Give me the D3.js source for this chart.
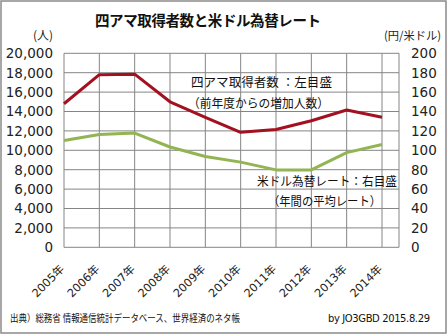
<!DOCTYPE html>
<html><head><meta charset="utf-8">
<script src="https://cdn.jsdelivr.net/npm/d3@7"></script>
<style>body{margin:0;background:#fff}svg{display:block}</style>
</head><body>
<svg id="c" width="448" height="336"></svg>
<script>
const categories = ["2005年","2006年","2007年","2008年","2009年","2010年","2011年","2012年","2013年","2014年"];
const licensees = [14800, 17800, 17850, 15000, 13400, 11850, 12150, 13050, 14150, 13400];
const usdJpy = [110.2, 116.3, 117.8, 103.4, 93.6, 87.8, 79.8, 79.8, 97.6, 105.9];
const leftTicks = [0,2000,4000,6000,8000,10000,12000,14000,16000,18000,20000];
const rightTicks = [0,20,40,60,80,100,120,140,160,180,200];
const title = "四アマ取得者数と米ドル為替レート";

const svg = d3.select("#c");
const L = 64, R = 399, T = 53.3, B = 247.3;
const lastX = 382;
const font = "'DejaVu Sans','Noto Sans CJK JP',sans-serif";
const jfont = "'Noto Sans CJK JP',sans-serif";

svg.append("rect").attr("x",1).attr("y",1).attr("width",445).attr("height",332)
  .attr("fill","#fff").attr("stroke","#8a8a8a").attr("stroke-width",1.5);

const x = d3.scalePoint().domain(categories).range([L, lastX]);
const yL = d3.scaleLinear().domain([0,20000]).range([B,T]);
const yR = d3.scaleLinear().domain([0,200]).range([B,T]);

// gridlines
const g = svg.append("g");
g.selectAll(".h").data(leftTicks).join("line")
  .attr("x1",L).attr("x2",R).attr("y1",d=>yL(d)).attr("y2",d=>yL(d))
  .attr("stroke","#858585").attr("stroke-width",1);
g.selectAll(".v").data(categories).join("line")
  .attr("x1",d=>x(d)).attr("x2",d=>x(d)).attr("y1",T).attr("y2",B)
  .attr("stroke","#858585").attr("stroke-width",1);
g.append("line").attr("x1",R).attr("x2",R).attr("y1",T).attr("y2",B)
  .attr("stroke","#858585").attr("stroke-width",1);

// left axis labels
svg.append("g").selectAll("text").data(leftTicks).join("text")
  .attr("x",53).attr("y",d=>yL(d)).attr("dy","0.36em").attr("text-anchor","end")
  .attr("font-family",font).attr("font-size",13.5).attr("fill","#222")
  .text(d=>d3.format(",")(d));
// right axis labels
svg.append("g").selectAll("text").data(rightTicks).join("text")
  .attr("x",411).attr("y",d=>yR(d)).attr("dy","0.36em").attr("text-anchor","start")
  .attr("font-family",font).attr("font-size",13.5).attr("fill","#222")
  .text(d=>d);

// unit labels
svg.append("text").attr("x",33).attr("y",36).attr("dy","0.36em")
  .attr("font-family",jfont).attr("font-size",12).attr("fill","#222")
  .attr("textLength",20).attr("lengthAdjust","spacingAndGlyphs").text("(人)");
svg.append("text").attr("x",384).attr("y",36).attr("dy","0.36em")
  .attr("font-family",jfont).attr("font-size",11.5).attr("fill","#222")
  .attr("textLength",57).attr("lengthAdjust","spacingAndGlyphs").text("(円/米ドル)");

// x axis labels
svg.append("g").selectAll("text").data(categories).join("text")
  .attr("transform",d=>`translate(${x(d)+1},${B+22.5}) rotate(-45)`)
  .attr("text-anchor","end")
  .attr("font-family",font).attr("font-size",11.3).attr("fill","#222")
  .text(d=>d);

// lines
const lineL = d3.line().x((d,i)=>x(categories[i])).y(d=>yL(d));
const lineR = d3.line().x((d,i)=>x(categories[i])).y(d=>yR(d));
svg.append("path").datum(usdJpy).attr("d",lineR).attr("fill","none")
  .attr("stroke","#93B453").attr("stroke-width",3).attr("stroke-linejoin","round");
svg.append("path").datum(licensees).attr("d",lineL).attr("fill","none")
  .attr("stroke","#A3101F").attr("stroke-width",3).attr("stroke-linejoin","round");

// title
svg.append("text").attr("x",208).attr("y",21).attr("dy","0.36em").attr("text-anchor","middle")
  .attr("font-family",jfont).attr("font-weight","bold").attr("font-size",14.5).attr("fill","#111")
  .attr("textLength",226).text(title);

// annotations
const ann = [
  {t:"四アマ取得者数 ：左目盛", x:191, y:82, w:141},
  {t:"（前年度からの増加人数）", x:188, y:103, w:141},
  {t:"米ドル為替レート：右目盛", x:257, y:181, w:140},
  {t:"（年間の平均レート）", x:268, y:201.5, w:113}
];
svg.append("g").selectAll("text").data(ann).join("text")
  .attr("x",d=>d.x).attr("y",d=>d.y).attr("dy","0.36em")
  .attr("font-family",jfont).attr("font-size",12.5).attr("fill","#111")
  .attr("textLength",d=>d.w).attr("lengthAdjust","spacingAndGlyphs")
  .text(d=>d.t);

// footer
svg.append("text").attr("x",10).attr("y",318).attr("dy","0.36em")
  .attr("font-family",jfont).attr("font-size",10).attr("fill","#111")
  .attr("textLength",230).attr("lengthAdjust","spacingAndGlyphs")
  .text("出典）総務省 情報通信統計データベース、世界経済のネタ帳");
svg.append("text").attr("x",430).attr("y",318).attr("dy","0.36em").attr("text-anchor","end")
  .attr("font-family",font).attr("font-size",10).attr("fill","#111")
  .attr("textLength",102).text("by JO3GBD 2015.8.29");
</script>
</body></html>
